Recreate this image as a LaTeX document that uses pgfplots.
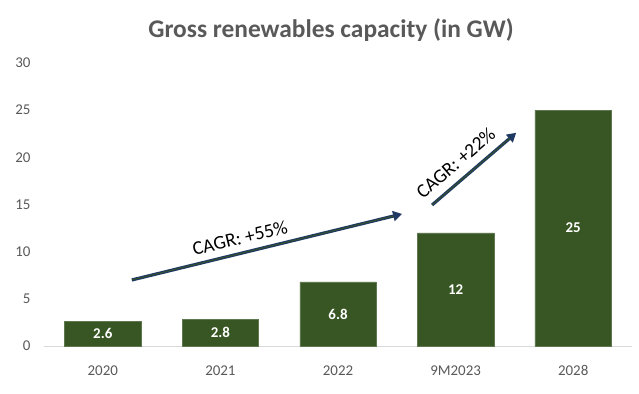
\documentclass[border=0pt]{standalone}
\usepackage{fontspec}
\setmainfont{Carlito}
\usepackage{pgfplots}
\pgfplotsset{compat=1.18}
\usetikzlibrary{arrows.meta}
\definecolor{bargreen}{HTML}{375623}
\definecolor{navy}{HTML}{1F3864}
\definecolor{ticktext}{HTML}{595959}
\definecolor{titletext}{HTML}{595959}
\definecolor{axisline}{HTML}{D9D9D9}
\begin{document}
\begin{tikzpicture}[x=1bp,y=1bp]
\useasboundingbox (0,0) rectangle (639,393);
\node[font=\fontsize{25.5}{30}\selectfont\bfseries, text=titletext] at (331,363) {Gross renewables capacity (in GW)};
\begin{axis}[
  at={(44bp,47bp)}, anchor=south west,
  scale only axis, width=588bp, height=283bp,
  xmin=-0.5, xmax=4.5, ymin=0, ymax=30,
  axis y line=none, axis x line*=bottom,
  axis line style={axisline, line width=1bp, -},
  x axis line style={-},
  xtick=data, xticklabels={2020,2021,2022,9M2023,2028},
  xtick style={draw=none},
  /pgf/number format/assume math mode=true,
  ticklabel style={font=\fontsize{15}{17}\selectfont, text=ticktext},
  xticklabel style={yshift=-16bp},
  clip=false,
]
\pgfplotsextra{%
  \foreach \v in {0,5,10,15,20,25,30}{%
    \node[anchor=east, font=\fontsize{15}{17}\selectfont, text=ticktext] at (axis cs:-0.5,\v) [xshift=-10bp] {\v};
  }%
}
\addplot[ybar, bar width=0.65, fill=bargreen, draw=bargreen!80!white,
  visualization depends on=y \as \rawy,
  nodes near coords,
  every node near coord/.append style={anchor=center, text=white, font=\fontsize{15}{18}\selectfont\bfseries,
    shift={(axis direction cs:0,-\rawy/2)}},
  point meta=explicit symbolic]
  coordinates {(0,2.6)[2.6] (1,2.8)[2.8] (2,6.8)[6.8] (3,12)[12] (4,25)[25]};
\draw[navy, line width=3.2bp, -{Triangle[length=9bp,width=10bp]}] (axis cs:0.247,7.0) -- (axis cs:2.545,14.0);
\draw[bargreen, line width=0.8bp, shorten >=8bp] (axis cs:0.247,7.0) -- (axis cs:2.545,14.0);
\draw[navy, line width=3.2bp, -{Triangle[length=9bp,width=10bp]}] (axis cs:2.80,14.95) -- (axis cs:3.515,22.6);
\draw[bargreen, line width=0.8bp, shorten >=8bp] (axis cs:2.80,14.95) -- (axis cs:3.515,22.6);
\node[rotate=13.7, font=\fontsize{19.5}{22}\selectfont] at (axis cs:1.166,11.45) {CAGR: +55\%};
\node[rotate=40.6, font=\fontsize{19.5}{22}\selectfont] at (axis cs:3.0,19.4) {CAGR: +22\%};
\end{axis}
\end{tikzpicture}
\end{document}
